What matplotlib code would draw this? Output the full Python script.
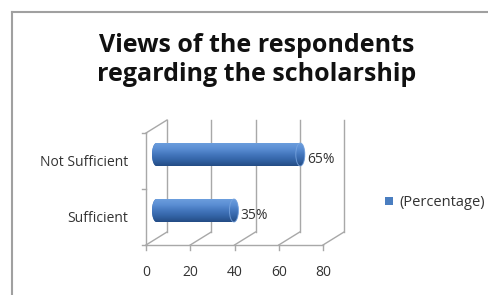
import numpy as np
import matplotlib.pyplot as plt
from matplotlib.lines import Line2D
from matplotlib.patches import Ellipse, Polygon
from matplotlib.colors import LinearSegmentedColormap

# Chart data
categories = ["Sufficient", "Not Sufficient"]
percentage = [35, 65]
x_ticks = [0, 20, 40, 60, 80]
series_name = "(Percentage)"
title = "Views of the respondents\nregarding the scholarship"

plt.rcParams['font.family'] = ['Open Sans', 'DejaVu Sans']

W, H = 488, 295
fig = plt.figure(figsize=(W / 100, H / 100), dpi=100)

# Front plane of the fake 3D plot area
ax_l, ax_r, ax_b, ax_t = 146, 323, 245, 133
ax = fig.add_axes([ax_l / W, (H - ax_b) / H, (ax_r - ax_l) / W, (ax_b - ax_t) / H])
ax.axis('off')

# depth offset (pixels) converted to data units
px_x = (ax_r - ax_l) / (x_ticks[-1] - x_ticks[0])
px_y = (ax_b - ax_t) / len(categories)
dx = 21 / px_x
dy = 13 / px_y

grey = '#a8a8a8'
txt = '#333333'
lw = 1.0
y0, y1 = -0.5, len(categories) - 0.5

# back wall gridlines and floor diagonals
for x in x_ticks:
    ax.plot([x + dx, x + dx], [y0 + dy, y1 + dy], color=grey, lw=lw, clip_on=False)
    ax.plot([x, x + dx], [y0, y0 + dy], color=grey, lw=lw, clip_on=False)
    ax.plot([x, x], [y0, y0 - 5 / px_y], color=grey, lw=lw, clip_on=False)
    ax.text(x, y0 - 28 / px_y, str(x), ha='center', va='center', fontsize=10,
            color=txt)
# front floor edge
ax.plot([x_ticks[0], x_ticks[-1]], [y0, y0], color=grey, lw=lw, clip_on=False)
# left wall
ax.plot([0, 0], [y0, y1], color=grey, lw=lw, clip_on=False)
ax.plot([0, dx], [y1, y1 + dy], color=grey, lw=lw, clip_on=False)
for yt in np.arange(y0, y1 + 0.01, 1.0):
    ax.plot([0, -4 / px_x], [yt, yt], color=grey, lw=lw, clip_on=False)

# cylinder bars, drawn at half depth
bar_h = 23 / px_y
cap_a = 4.5 / px_x
grad = np.linspace(0, 1, 64).reshape(-1, 1)
cmap = LinearSegmentedColormap.from_list(
    'cyl', ['#6b9ddd', '#5a8ed3', '#4376bd', '#3363a5', '#244c85'])
t = np.linspace(np.pi / 2, 3 * np.pi / 2, 30)
for i, (cat, val) in enumerate(zip(categories, percentage)):
    yc = i + dy / 2
    xs = dx / 2
    xe = xs + val
    left = np.column_stack([xs + cap_a * np.cos(t), yc + bar_h / 2 * np.sin(t)])
    right = np.column_stack([xe - cap_a * np.cos(t), yc - bar_h / 2 * np.sin(t)])
    shape = Polygon(np.vstack([left, right]), closed=True, facecolor='#4376bd',
                    edgecolor='none', zorder=3)
    ax.add_patch(shape)
    im = ax.imshow(grad, cmap=cmap, aspect='auto', zorder=3.5, origin='upper',
                   extent=[xs - cap_a, xe + cap_a, yc - bar_h / 2, yc + bar_h / 2])
    im.set_clip_path(shape)
    ax.add_patch(Ellipse((xe, yc), 2 * cap_a, bar_h, facecolor='none',
                         edgecolor='#7aa6e0', lw=0.7, alpha=0.8, zorder=4))
    ax.text(xe + cap_a + 2 / px_x, yc - 5 / px_y, f"{val}%",
            ha='left', va='center', fontsize=10, color=txt, zorder=5)
    ax.text(-18 / px_x, i - 2 / px_y, cat, ha='right', va='center', fontsize=10,
            color=txt)

ax.set_xlim(x_ticks[0], x_ticks[-1])
ax.set_ylim(y0, y1)

# title
fig.text(257 / W, 1 - 60 / H, title, ha='center', va='center', fontsize=18,
         fontweight='bold', color='#111111', linespacing=1.22)

# legend
fig.patches.append(plt.Rectangle((385 / W, 1 - 205 / H), 8 / W, 8 / H,
                                 transform=fig.transFigure, facecolor='#4a7ec0',
                                 edgecolor='none'))
fig.text(399 / W, 1 - 202 / H, series_name, ha='left', va='center', fontsize=10.5,
         color=txt)

# chart border
fig.add_artist(Line2D([12 / W, 12 / W], [0, 1 - 12 / H], color='#a0a0a0', lw=1.5))
fig.add_artist(Line2D([12 / W, 1], [1 - 12 / H, 1 - 12 / H], color='#a0a0a0', lw=1.5))

fig.savefig('out.png', dpi=100)
